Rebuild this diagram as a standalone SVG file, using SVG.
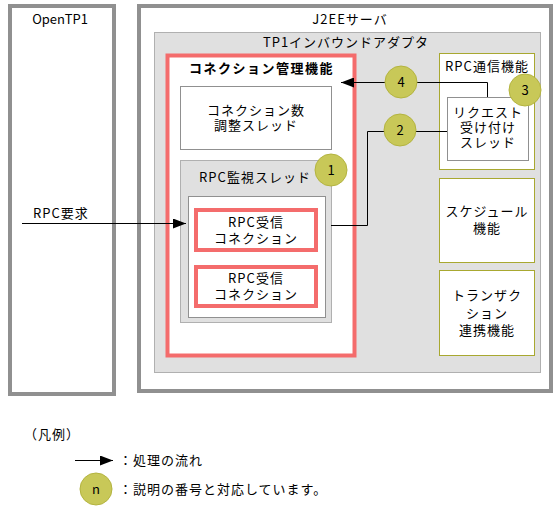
<svg xmlns="http://www.w3.org/2000/svg" width="556" height="508" viewBox="0 0 556 508">
<style>
text{font-family:"Noto Sans CJK JP","Noto Sans",sans-serif;font-size:13px;letter-spacing:1px;fill:#000}
.c{text-anchor:middle}
.lat{letter-spacing:0}
.outer{fill:#fff;stroke:#909090;stroke-width:4}
.gray{fill:#e0e0e0;stroke:#b0b0b0;stroke-width:1}
.wbox{fill:#fff;stroke:#909090;stroke-width:1}
.red{fill:#fff;stroke:#f46c6c;stroke-width:4}
.olive{fill:#fff;stroke:#a8a830;stroke-width:1}
.num{fill:#c8c858;stroke:#b4b440;stroke-width:1}
.ln{fill:none;stroke:#000;stroke-width:1}
</style>
<defs>
<marker id="ah" markerWidth="13" markerHeight="10" refX="13" refY="5" orient="auto" markerUnits="userSpaceOnUse">
<path d="M0,0 L13,5 L0,10 Z" fill="#000"/>
</marker>
</defs>
<g id="opentp1">
<rect class="outer" x="10" y="6" width="104" height="388"/>
<text class="c lat" x="60" y="24">OpenTP1</text>
</g>
<g id="j2ee">
<rect class="outer" x="139" y="6" width="412" height="385"/>
<text class="c" x="350" y="24">J2EEサーバ</text>
</g>
<g id="adapter">
<rect class="gray" x="154.5" y="32.5" width="386" height="340"/>
<text class="c" x="346" y="47">TP1インバウンドアダプタ</text>
</g>
<g id="conn-mgr">
<rect class="red" x="167.5" y="55.5" width="187" height="300"/>
<text x="189" y="73" font-weight="bold" style="letter-spacing:1.5px">コネクション管理機能</text>
</g>
<g id="conn-adjust">
<rect class="wbox" x="180.5" y="86.5" width="151" height="63"/>
<text class="c" x="256" y="115">コネクション数</text>
<text class="c" x="256" y="130">調整スレッド</text>
</g>
<g id="rpc-monitor">
<rect class="gray" x="180.5" y="160.5" width="151" height="162"/>
<text class="c" x="255" y="182">RPC監視スレッド</text>
<rect class="wbox" x="188.5" y="196.5" width="137" height="121"/>
</g>
<g id="rpc-conn1">
<rect class="red" x="196" y="210" width="120" height="40"/>
<text class="c" x="256" y="227">RPC受信</text>
<text class="c" x="256" y="243">コネクション</text>
</g>
<g id="rpc-conn2">
<rect class="red" x="196" y="267" width="120" height="39"/>
<text class="c" x="256" y="283">RPC受信</text>
<text class="c" x="256" y="299">コネクション</text>
</g>
<g id="rpc-comm">
<rect class="olive" x="439.5" y="53.5" width="95" height="116"/>
<text class="c" x="487" y="71">RPC通信機能</text>
</g>
<g id="req-thread">
<rect class="wbox" x="447.5" y="97.5" width="81" height="63"/>
<text class="c" x="488" y="117">リクエスト</text>
<text class="c" x="488" y="132">受け付け</text>
<text class="c" x="488" y="147">スレッド</text>
</g>
<g id="schedule">
<rect class="olive" x="439.5" y="178.5" width="95" height="84"/>
<text class="c" x="487" y="216">スケジュール</text>
<text class="c" x="487" y="233">機能</text>
</g>
<g id="transaction">
<rect class="olive" x="439.5" y="270.5" width="95" height="85"/>
<text class="c" x="487" y="300">トランザク</text>
<text class="c" x="487" y="318">ション</text>
<text class="c" x="487" y="335">連携機能</text>
</g>
<g id="connectors">
<path class="ln" d="M22,223.5 H186" marker-end="url(#ah)"/>
<path class="ln" d="M487.5,97 V82.5 H341" marker-end="url(#ah)"/>
<path class="ln" d="M447,131.5 H367.5 V225.5 H331"/>
</g>
<g id="num1">
<circle class="num" cx="331" cy="170" r="16"/>
<text class="c lat" x="331" y="175">1</text>
</g>
<g id="num2">
<circle class="num" cx="400" cy="130" r="16"/>
<text class="c lat" x="400" y="135">2</text>
</g>
<g id="num3">
<circle class="num" cx="525" cy="90" r="16"/>
<text class="c lat" x="525" y="95">3</text>
</g>
<g id="num4">
<circle class="num" cx="401" cy="82" r="16"/>
<text class="c lat" x="401" y="87">4</text>
</g>
<g id="rpc-req-label">
<text x="33" y="218">RPC要求</text>
</g>
<g id="legend">
<text x="24" y="439">（凡例）</text>
<path class="ln" d="M75,460.5 H113" marker-end="url(#ah)"/>
<text x="119" y="465">：処理の流れ</text>
<circle class="num" cx="96" cy="489" r="16"/>
<text class="c lat" x="96" y="494">n</text>
<text x="119" y="494">：説明の番号と対応しています。</text>
</g>
</svg>
